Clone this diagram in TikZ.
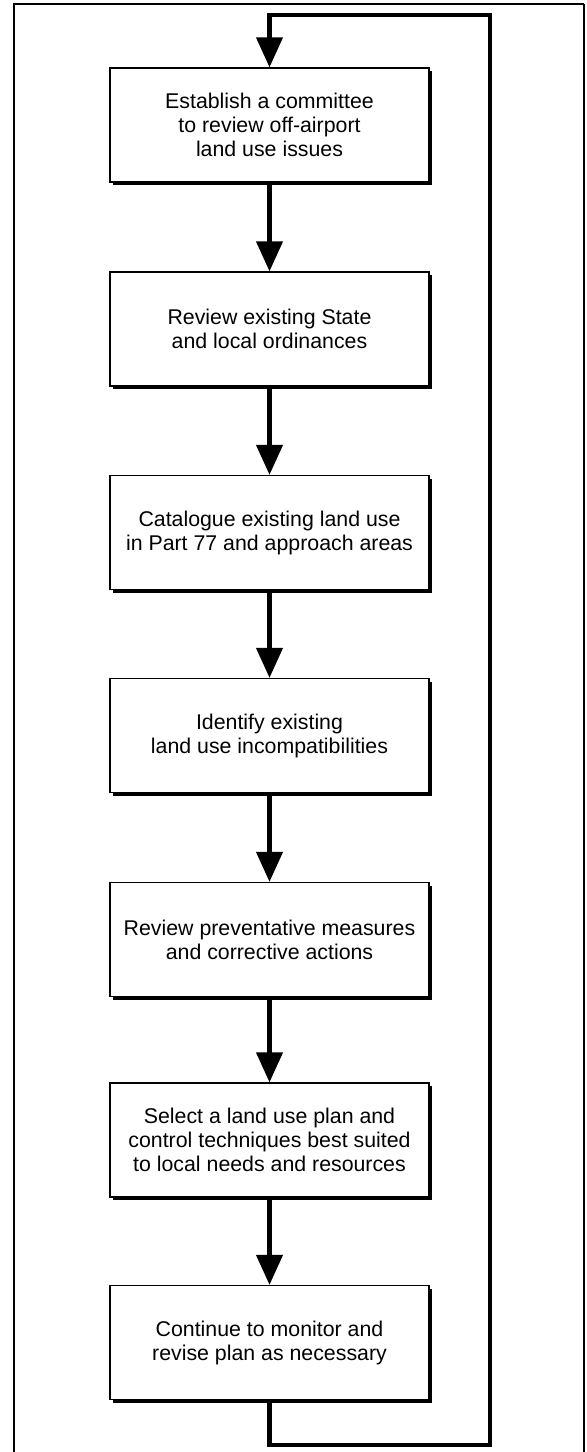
\documentclass[tikz,border=0pt]{standalone}
\usepackage{fontspec}
\setmainfont{Liberation Sans}
\usepackage{tikz}
\usetikzlibrary{arrows.meta}
\usetikzlibrary{shadows}
\tikzset{stepbox/.style={draw,line width=1.1pt,fill=white,
           minimum width=95.7mm,minimum height=34.2mm,align=center,
           font=\fontsize{18.2}{20.5}\selectfont,
           drop shadow={shadow xshift=1mm,shadow yshift=-1mm,fill=black,opacity=1}},
         flow/.style={line width=3.6pt,-{Triangle[width=7.8mm,length=9mm]}}}

\begin{document}
\begin{tikzpicture}[x=0.3mm,y=-0.3mm]
\useasboundingbox (0,0) rectangle (586,1452);
\draw[line width=2.4pt] (14,1452)--(14,4)--(584,4);
\draw[line width=1.4pt] (584,4)--(584,1452);
\foreach \i/\y/\txt in {1/125/{Establish a committee\\to review off-airport\\land use issues},
                        2/329/{Review existing State\\and local ordinances},
                        3/532.5/{Catalogue existing land use\\in Part 77 and approach areas},
                        4/735.5/{Identify existing\\land use incompatibilities},
                        5/939.5/{Review preventative measures\\and corrective actions},
                        6/1140/{Select a land use plan and\\control techniques best suited\\to local needs and resources},
                        7/1342.5/{Continue to monitor and\\revise plan as necessary}}
  \node[stepbox] (s\i) at (269.5,\y) {\txt};
\foreach \i/\j in {1/2,2/3,3/4,4/5,5/6,6/7}
  \draw[flow] (s\i)--(s\j);
% feedback loop
\coordinate (loopbr) at (490,1445);
\coordinate (looptr) at (490,15);
\draw[flow] (s7) |- (loopbr)--(looptr) -| (s1);
\end{tikzpicture}
\end{document}
